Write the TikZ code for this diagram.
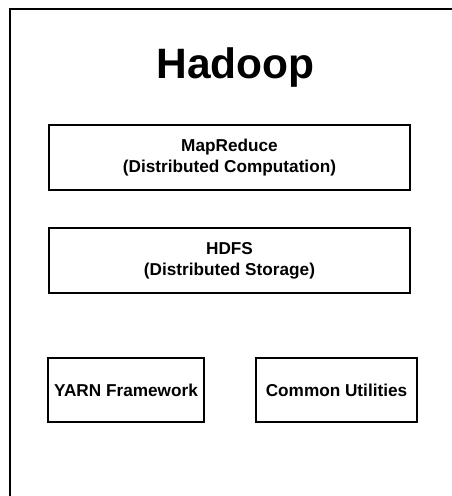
\documentclass[tikz,border=0pt]{standalone}
\usepackage{fontspec}
\setmainfont{Liberation Sans}
\begin{document}
\begin{tikzpicture}[x=1pt,y=-1pt,
    layer/.style={draw,line width=1.3pt,align=center,inner sep=0pt,
      font=\fontsize{17.2}{21}\selectfont\bfseries}]
  \clip (0,0) rectangle (452,496);
  % outer frame, running off the page
  \draw[line width=1.3pt] (10,9) rectangle (480,520);
  \node[font=\fontsize{42.5}{50}\selectfont\bfseries,anchor=base] (title) at (235.5,78) {Hadoop};
  \node[layer,minimum width=361pt,minimum height=65pt] (mapreduce) at (229.5,157.5)
    {MapReduce\\(Distributed Computation)};
  \node[layer,minimum width=361pt,minimum height=65pt] (hdfs) at (229.5,260.5)
    {HDFS\\(Distributed Storage)};
  \node[layer,minimum width=156pt,minimum height=64pt] (yarn) at (126,390)
    {YARN Framework};
  \node[layer,minimum width=161pt,minimum height=64pt] (common) at (336.5,390)
    {Common Utilities};
\end{tikzpicture}
\end{document}
